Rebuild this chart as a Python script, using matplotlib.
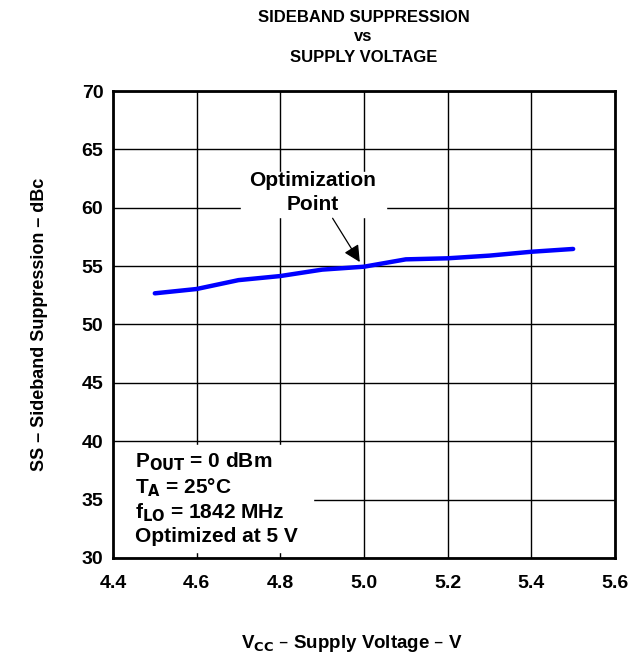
import numpy as np
import matplotlib.pyplot as plt

plt.rcParams["font.family"] = ["Liberation Sans", "DejaVu Sans"]
plt.rcParams["font.weight"] = "bold"

v_cc = [4.5, 4.6, 4.7, 4.8, 4.9, 5.0, 5.1, 5.2, 5.3, 5.4, 5.5]
ss = [52.67, 53.04, 53.8, 54.15, 54.7, 54.95, 55.58, 55.67, 55.9, 56.23, 56.47]
x_ticks = [4.4, 4.6, 4.8, 5.0, 5.2, 5.4, 5.6]
y_ticks = [30, 35, 40, 45, 50, 55, 60, 65, 70]

fig = plt.figure(figsize=(6.39, 6.59), dpi=100)
ax = fig.add_axes([0.1768, 0.1533, 0.7856, 0.7086])

ax.set_xlim(4.4, 5.6)
ax.set_ylim(30, 70)
ax.set_xticks(x_ticks)
ax.set_yticks(y_ticks)
ax.set_xticklabels([f"{v:.1f}" for v in x_ticks], fontsize=14, fontweight="bold")
ax.set_yticklabels([str(v) for v in y_ticks], fontsize=14, fontweight="bold")
ax.tick_params(axis="x", length=0, pad=12)
ax.tick_params(axis="y", length=0, pad=7)
ax.grid(True, color="black", linewidth=1.0)
ax.set_axisbelow(True)
for s in ax.spines.values():
    s.set_linewidth(2.0)

ax.plot(v_cc, ss, color="#0000ff", linewidth=3.2, solid_capstyle="round", zorder=3)

ax.set_xlabel("V$_{\\mathbf{CC}}$ \u2013 Supply Voltage \u2013 V", fontsize=13.5,
              fontweight="bold", labelpad=30, x=0.476)
ax.set_ylabel("SS \u2013 Sideband Suppression \u2013 dBc", fontsize=13,
              fontweight="bold", labelpad=24)

fig.text(0.569, 0.974, "SIDEBAND SUPPRESSION", ha="center", va="center",
         fontsize=12, fontweight="bold")
fig.text(0.569, 0.944, "vs", ha="center", va="center", fontsize=12, fontweight="bold")
fig.text(0.569, 0.912, "SUPPLY VOLTAGE", ha="center", va="center",
         fontsize=12, fontweight="bold")

# white patches behind the annotation texts
ax.fill_between([4.706, 5.053], 59.2, 63.1, color="white", zorder=2)
ax.fill_between([4.4, 4.878], 30.5, 39.7, color="white", zorder=2)

ax.text(4.878, 61.3, "Optimization\nPoint", ha="center", va="center",
        fontsize=15, fontweight="bold", linespacing=1.32, zorder=4)
ax.annotate("", xy=(4.99, 55.35), xytext=(4.925, 59.1), zorder=4,
            arrowprops=dict(arrowstyle="-|>,head_length=1.0,head_width=0.5",
                            color="black", lw=0.9, shrinkA=0, shrinkB=0))

ax.text(4.4526, 35.1,
        "P$_{\\mathbf{OUT}}$ = 0 dBm\nT$_{\\mathbf{A}}$ = 25\u00b0C\n"
        "f$_{\\mathbf{LO}}$ = 1842 MHz\nOptimized at 5 V",
        ha="left", va="center", fontsize=15, fontweight="bold",
        linespacing=1.17, zorder=4)

fig.savefig("out.png", dpi=100)
